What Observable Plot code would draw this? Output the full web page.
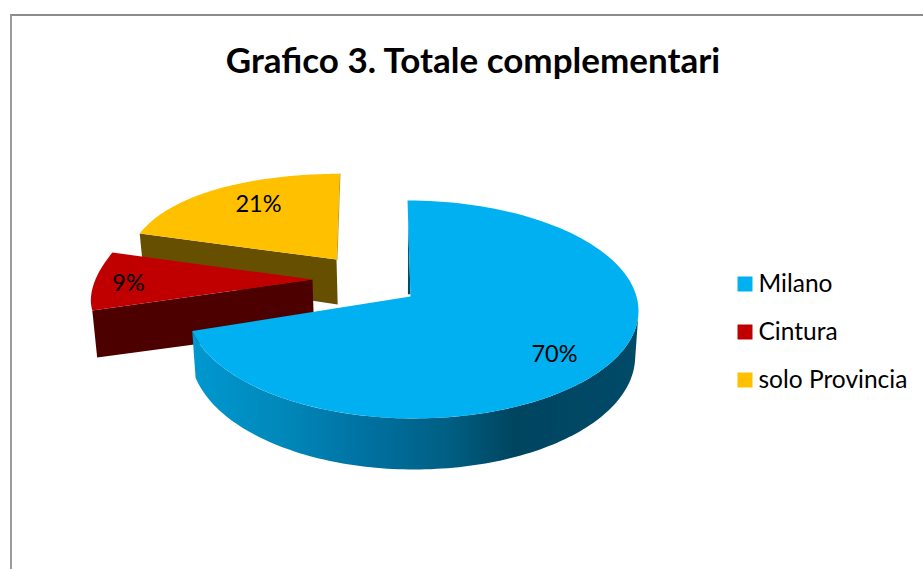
<!DOCTYPE html>
<html>
<head>
<meta charset="utf-8">
<script src="https://cdn.jsdelivr.net/npm/d3@7"></script>
<script src="https://cdn.jsdelivr.net/npm/@observablehq/plot@0.6"></script>
<style>
html,body{margin:0;padding:0;background:#fff;overflow:hidden}
#page{position:relative;width:923px;height:569px;overflow:hidden}
#frame{position:absolute;left:10px;top:14px;width:930px;height:600px;border-left:2px solid #9a9a9a;border-top:2px solid #8c8c8c;box-sizing:border-box}
#title{position:absolute;left:0;top:0;width:946px;height:90px;box-sizing:border-box;padding-top:38px;text-align:center;font:700 35px/42px Lato,sans-serif;color:#000;white-space:nowrap}
#chart{position:absolute;left:0;top:90px}
svg{display:block;background:transparent!important}
</style>
</head>
<body>
<div id="page">
  <div id="frame"></div>
  <div id="title">Grafico 3. Totale complementari</div>
  <div id="chart"></div>
</div>
<script>
const categories = ["Milano", "Cintura", "solo Provincia"];
const shares = [70, 9, 21];
const topColors = ["#00B0F0", "#C00000", "#FFC000"];
const wallColors = ["#004A66", "#4D0000", "#665000"];

// exploded 3D layout of each slice: apex, radii, perspective
const layout = [
  {ax: 410, ay: 296, rx: 226, rxl: 222, ry: 107.4, kx: 0.119, ky: 0.119, shear: -3, depth: 45, label: [554, 354]},
  {ax: 312, ay: 279, rx: 217, rxl: 217, ry: 104.6, kx: 0.203, ky: -0.14, shear: 0, depth: 49, label: [128, 283]},
  {ax: 336, ay: 259, rx: 209, rxl: 209, ry: 112, kx: 0.1, ky: 0.307, shear: 3, depth: 45, label: [258, 204]}
];
const legendY = [283.5, 331.5, 379.5];

const arcs = d3.pie().sort(null).startAngle(0).endAngle(2 * Math.PI)(shares);
const project = (L, r, t, lower = false) => {
  const X = r * Math.sin(t), Y = r * Math.cos(t);
  const sx = 1 / (1 + L.kx * Y), sy = 1 / (1 + L.ky * Y);
  let x = L.ax + (X < 0 ? L.rxl : L.rx) * X * sx + L.shear * Y;
  let y = L.ay - L.ry * Y * sy;
  if (lower) { x = 415 + (x - 415) * 0.985; y += L.depth * sy; }
  return [x, y];
};
const rim = (L, a, b, lower, n = 120) => d3.range(n + 1).map(i => project(L, 1, a + (b - a) * i / n, lower));
const topFace = (i) => {
  const L = layout[i], A = arcs[i];
  return [project(L, 0, 0), ...rim(L, A.startAngle, A.endAngle, false)];
};
const radialWall = (i, t) => {
  const L = layout[i];
  return [project(L, 1, t), project(L, 0, 0), project(L, 0, 0, true), project(L, 1, t, true)];
};
const rad = d => d * Math.PI / 180;

// Milano outer wall, front of the pie
const milanoWall = [...rim(layout[0], rad(100), arcs[0].endAngle, false), ...rim(layout[0], arcs[0].endAngle, rad(100), true)];
// thin visible cut on the Milano back edge
const milanoCut = (() => {
  const a = project(layout[0], 0.77, 0), b = project(layout[0], 0.02, 0);
  return [a, b, [b[0] - 2.5, b[1]]];
})();
const provinciaEdge = [project(layout[2], 1, 0), project(layout[2], 0, 0)];

const poly = (pts, fill) => Plot.line(pts, {x: d => d[0], y: d => d[1], fill, stroke: "none", curve: "linear"});

const defs = () => {
  const NS = "http://www.w3.org/2000/svg";
  const d = document.createElementNS(NS, "defs");
  const g = document.createElementNS(NS, "linearGradient");
  g.setAttribute("id", "wallGrad");
  [[0, "#0098D0"], [0.2, "#0088BA"], [0.4, "#0070A0"], [0.58, "#005E82"], [0.72, "#004560"], [1, "#004A68"]].forEach(([o, c]) => {
    const s = document.createElementNS(NS, "stop");
    s.setAttribute("offset", o); s.setAttribute("stop-color", c);
    g.appendChild(s);
  });
  d.appendChild(g);
  return d;
};

const labels = shares.map((v, i) => ({text: v + "%", x: layout[i].label[0], y: layout[i].label[1]}));
const legend = categories.map((c, i) => ({c, y: legendY[i]}));
const font = "Lato, sans-serif";

const chart = Plot.plot({
  width: 923, height: 479, margin: 0,
  x: {domain: [0, 923], range: [0, 923], axis: null},
  y: {domain: [90, 569], range: [0, 479], axis: null},
  color: {domain: categories, range: topColors},
  marks: [
    defs,
    poly(radialWall(2, arcs[2].startAngle), wallColors[2]),
    poly(topFace(2), topColors[2]),
    Plot.line(provinciaEdge, {x: d => d[0] + 0.5, y: d => d[1], stroke: "#C9A000", strokeWidth: 1}),
    poly(radialWall(1, arcs[1].startAngle), wallColors[1]),
    poly(topFace(1), topColors[1]),
    poly(milanoWall, "url(#wallGrad)"),
    poly(milanoCut, wallColors[0]),
    poly(topFace(0), topColors[0]),
    Plot.text(labels, {x: "x", y: "y", text: "text", fontFamily: font, fontSize: 23.5, fill: "#000"}),
    Plot.dot(legend, {x: () => 744.5, y: "y", symbol: "square", r: 8.46, fill: "c", stroke: "none"}),
    Plot.text(legend, {x: () => 758, y: "y", text: "c", textAnchor: "start", fontFamily: font, fontSize: 24.5, fill: "#000"})
  ]
});
document.getElementById("chart").appendChild(chart);
</script>
</body>
</html>
